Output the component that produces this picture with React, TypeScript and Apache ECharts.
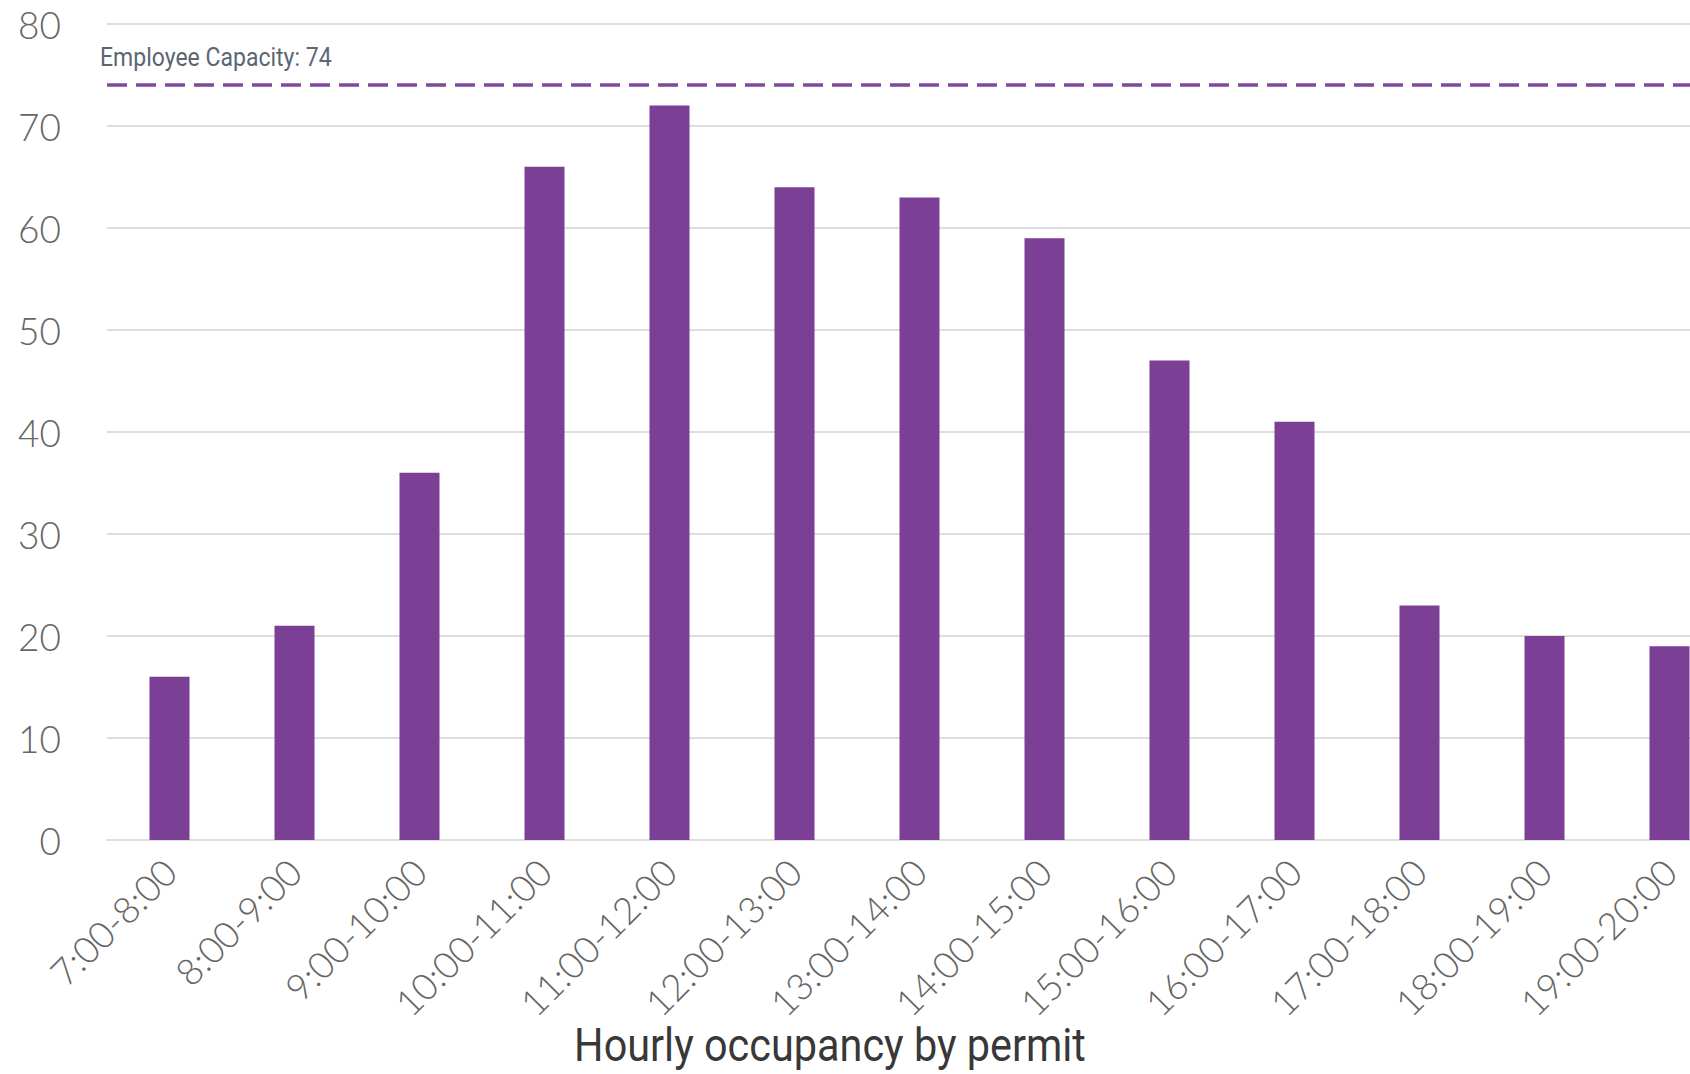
import React, { useEffect, useRef } from "react";
import * as echarts from "echarts";

const categories = [
  "7:00-8:00", "8:00-9:00", "9:00-10:00", "10:00-11:00", "11:00-12:00",
  "12:00-13:00", "13:00-14:00", "14:00-15:00", "15:00-16:00", "16:00-17:00",
  "17:00-18:00", "18:00-19:00", "19:00-20:00",
];
const occupancy = [16, 21, 36, 66, 72, 64, 63, 59, 47, 41, 23, 20, 19];
const capacity = 74;
const capacityLabel = "Employee Capacity: 74";
const chartTitle = "Hourly occupancy by permit";

export default function App() {
  const ref = useRef<HTMLDivElement>(null);
  useEffect(() => {
    if (!ref.current) return;
    const chart = echarts.init(ref.current, null, { renderer: "svg" });
    const labelFont = "Lato, 'Open Sans', sans-serif";
    const narrow = "Roboto, 'Liberation Sans', sans-serif";
    chart.setOption({
      animation: false,
      backgroundColor: "#ffffff",
      grid: { left: 107, top: 24, bottom: 234, right: 0, containLabel: false },
      xAxis: {
        type: "category",
        data: categories,
        axisLine: { show: true, lineStyle: { color: "#dddddd", width: 2 } },
        axisTick: { show: false },
        axisLabel: {
          rotate: 45,
          interval: 0,
          margin: 25,
          fontSize: 37,
          fontFamily: labelFont,
          fontWeight: 300,
          color: "#666666",
        },
      },
      yAxis: {
        type: "value",
        min: 0,
        max: 80,
        interval: 10,
        axisLine: { show: false },
        axisTick: { show: false },
        splitLine: { lineStyle: { color: "#dddddd", width: 2 } },
        axisLabel: {
          margin: 46,
          fontSize: 37,
          fontFamily: labelFont,
          fontWeight: 300,
          color: "#666666",
        },
      },
      series: [
        {
          type: "bar",
          data: occupancy,
          barWidth: 40,
          itemStyle: { color: "#7b3f95" },
          markLine: {
            symbol: "none",
            silent: true,
            data: [{ yAxis: capacity }],
            lineStyle: { color: "#7d4a9e", type: [20, 9], width: 3.5 },
            label: { show: false },
          },
        },
      ],
      graphic: [
        {
          type: "text",
          x: 100,
          y: 58,
          scaleX: 0.92,
          style: {
            text: capacityLabel,
            textAlign: "left",
            textVerticalAlign: "middle",
            fontSize: 25,
            fontFamily: narrow,
            fill: "#5b6673",
          },
        },
        {
          type: "text",
          x: 830,
          y: 1045,
          scaleX: 0.9,
          style: {
            text: chartTitle,
            textAlign: "center",
            textVerticalAlign: "middle",
            fontSize: 46,
            fontFamily: narrow,
            fill: "#383838",
          },
        },
      ],
    });
    return () => chart.dispose();
  }, []);
  return (
    <div
      ref={ref}
      style={{ position: "fixed", left: 0, top: 0, width: 1732, height: 1074 }}
    />
  );
}
